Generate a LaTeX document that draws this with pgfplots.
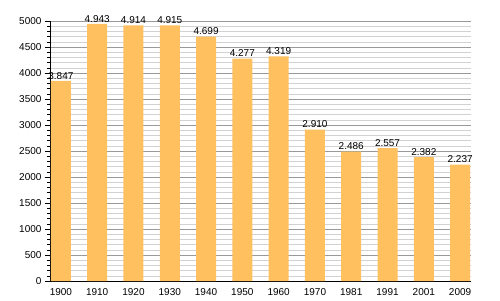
\documentclass[border=0pt]{standalone}
\usepackage{pgfplots}
\pgfplotsset{compat=1.18}
\usepackage{fontspec}
\setmainfont{Liberation Sans}
\definecolor{barc}{HTML}{FFC060}
\begin{document}
\fontsize{10}{12}\selectfont
\begin{tikzpicture}
\useasboundingbox (0pt,0pt) rectangle (500pt,300pt);
\begin{axis}[
  at={(50pt,19pt)}, anchor=south west,
  scale only axis, width=421pt, height=260pt,
  xmin=-0.3, xmax=11.3, ymin=0, ymax=5000,
  axis x line*=bottom, axis y line*=left,
  axis line style={black, line width=0.8pt},
  xtick={0,...,11},
  xticklabels={1900,1910,1920,1930,1940,1950,1960,1970,1981,1991,2001,2009},
  x tick style={draw=none},
  ytick={0,500,...,5000},
  minor y tick num=4,
  tick align=outside,
  major tick length=5pt, minor tick length=3pt,
  y tick style={black, line width=0.6pt},
  ymajorgrids, yminorgrids,
  major grid style={gray!80, line width=0.6pt},
  minor grid style={gray!35, line width=0.5pt},
  /pgf/number format/assume math mode=true,
  /pgf/number format/1000 sep={},
  tick label style={font=\fontsize{10}{12}\selectfont},
  xticklabel style={yshift=1pt},
  ybar, bar width=20pt,
  nodes near coords={\pgfmathprintnumber[1000 sep={.},assume math mode=true]{\pgfplotspointmeta}},
  nodes near coords style={font=\fontsize{10}{12}\selectfont, inner sep=1.5pt},
]
\addplot[fill=barc, draw=none] coordinates {
(0,3847) (1,4943) (2,4914) (3,4915) (4,4699) (5,4277) (6,4319) (7,2910) (8,2486) (9,2557) (10,2382) (11,2237)};
\end{axis}
\end{tikzpicture}
\end{document}
